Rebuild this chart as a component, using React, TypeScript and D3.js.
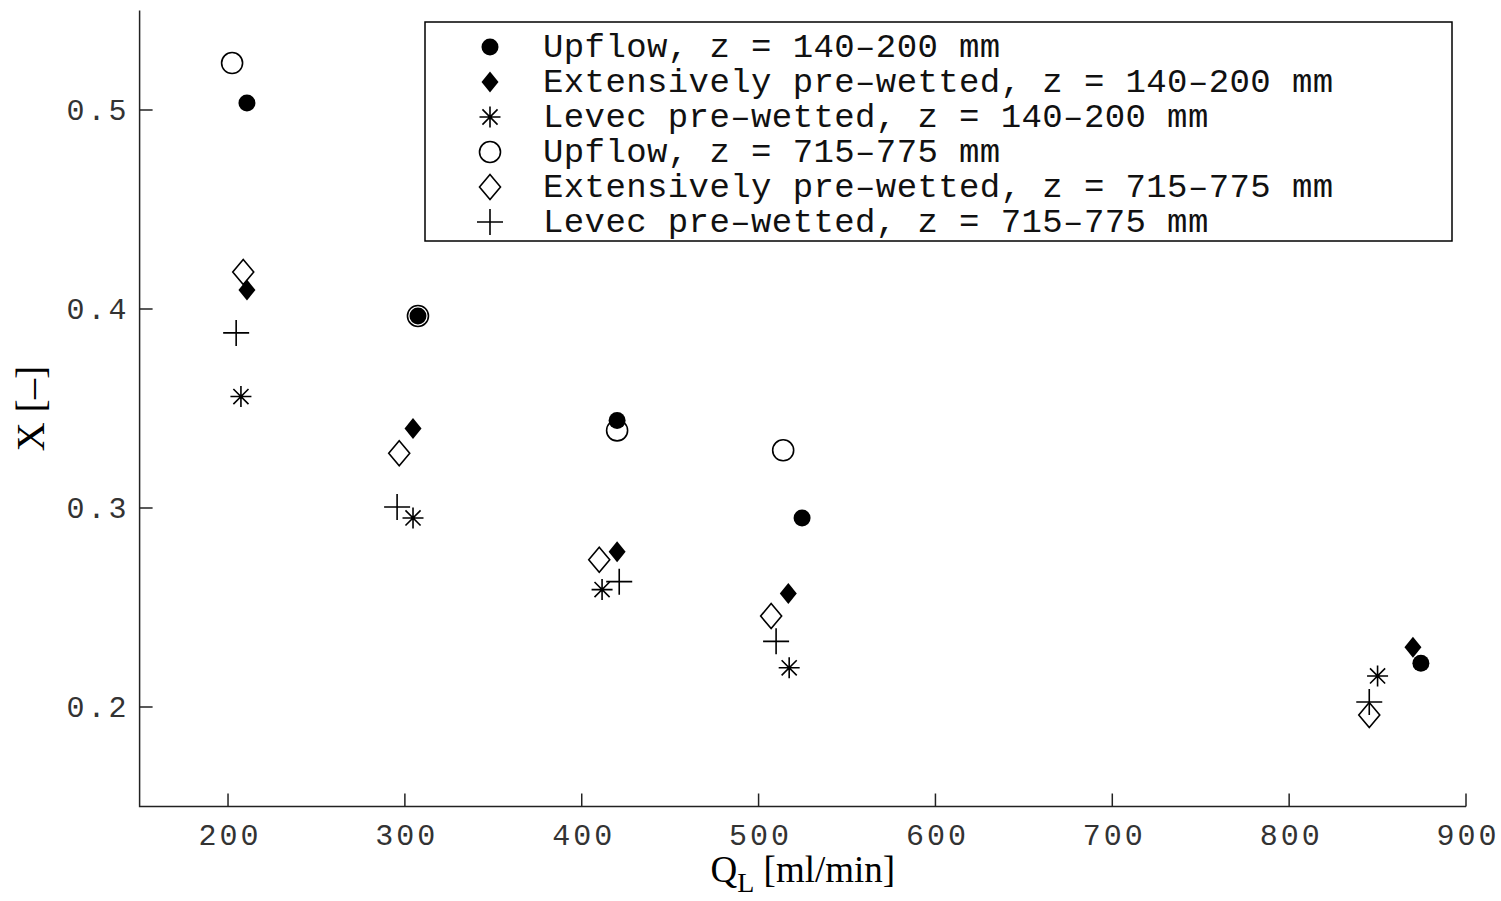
import React from 'react';
import * as d3 from 'd3';

const xTicks = [200, 300, 400, 500, 600, 700, 800, 900];
const yTicks = [0.2, 0.3, 0.4, 0.5];

const upflowLowX = [210.7, 307.4, 420, 524.6, 874.5];
const upflowLowY = [0.5035, 0.3965, 0.344, 0.295, 0.222];
const extLowX = [210.7, 304.6, 420, 516.8, 870];
const extLowY = [0.4095, 0.34, 0.278, 0.257, 0.23];
const levecLowX = [207.3, 304.6, 411.5, 517.3, 850];
const levecLowY = [0.356, 0.295, 0.259, 0.2197, 0.2156];
const upflowHighX = [202.3, 307.4, 420, 513.9];
const upflowHighY = [0.5236, 0.3965, 0.339, 0.329];
const extHighX = [208.6, 296.8, 409.9, 507.1, 845.3];
const extHighY = [0.4186, 0.3275, 0.274, 0.2457, 0.196];
const levecHighX = [204.6, 295.6, 421.2, 509.9, 845.3];
const levecHighY = [0.388, 0.3005, 0.263, 0.233, 0.2025];

const seriesNames = [
  'Upflow, z = 140\u2013200 mm',
  'Extensively pre\u2013wetted, z = 140\u2013200 mm',
  'Levec pre\u2013wetted, z = 140\u2013200 mm',
  'Upflow, z = 715\u2013775 mm',
  'Extensively pre\u2013wetted, z = 715\u2013775 mm',
  'Levec pre\u2013wetted, z = 715\u2013775 mm',
];

type Kind = 'dot' | 'fdiamond' | 'star' | 'circle' | 'odiamond' | 'plus';
const series: { kind: Kind; xs: number[]; ys: number[] }[] = [
  { kind: 'dot', xs: upflowLowX, ys: upflowLowY },
  { kind: 'fdiamond', xs: extLowX, ys: extLowY },
  { kind: 'star', xs: levecLowX, ys: levecLowY },
  { kind: 'circle', xs: upflowHighX, ys: upflowHighY },
  { kind: 'odiamond', xs: extHighX, ys: extHighY },
  { kind: 'plus', xs: levecHighX, ys: levecHighY },
];

const W = 1501;
const H = 901;
const left = 139.6, right = 1466, top = 10.5, bottom = 806.5;
const mono = '"Liberation Mono", "Courier New", monospace';
const serif = '"Liberation Serif", "Times New Roman", serif';

const Marker = ({ kind, x, y }: { kind: Kind; x: number; y: number }) => {
  const s = { stroke: '#000', strokeWidth: 1.6 };
  switch (kind) {
    case 'dot':
      return <circle cx={x} cy={y} r={8.5} fill="#000" />;
    case 'circle':
      return <circle cx={x} cy={y} r={10.5} fill="none" {...s} />;
    case 'fdiamond':
      return <path d={`M${x},${y - 10.5}L${x + 8.5},${y}L${x},${y + 10.5}L${x - 8.5},${y}Z`} fill="#000" />;
    case 'odiamond':
      return <path d={`M${x},${y - 12.5}L${x + 10.5},${y}L${x},${y + 12.5}L${x - 10.5},${y}Z`} fill="none" {...s} />;
    case 'plus':
      return <path d={`M${x - 13},${y}H${x + 13}M${x},${y - 13}V${y + 13}`} fill="none" {...s} />;
    case 'star': {
      const r = 10.5, d = r * 0.72;
      return (
        <path
          d={`M${x - r},${y}H${x + r}M${x},${y - r}V${y + r}M${x - d},${y - d}L${x + d},${y + d}M${x - d},${y + d}L${x + d},${y - d}`}
          fill="none"
          {...s}
        />
      );
    }
  }
  return null;
};

export default function App() {
  const x = d3.scaleLinear().domain([150, 900]).range([left, right]);
  const y = d3.scaleLinear().domain([0.15, 0.55]).range([bottom, top]);
  const tick = 13;

  return (
    <svg width={W} height={H} style={{ position: 'absolute', left: 0, top: 0, background: '#fff' }}>
      <rect width={W} height={H} fill="#fff" />
      {/* axes */}
      <path d={`M${left},${top}V${bottom}H${right}`} fill="none" stroke="#222" strokeWidth={1.5} />
      {xTicks.map((t) => (
        <g key={t}>
          <line x1={x(t)} x2={x(t)} y1={bottom} y2={bottom - tick} stroke="#222" strokeWidth={1.5} />
          <text
            x={x(t) + 2}
            y={bottom + 38}
            textAnchor="middle"
            fontFamily={mono}
            fontSize={30}
            letterSpacing={3}
            fill="#333"
          >
            {t}
          </text>
        </g>
      ))}
      {yTicks.map((t) => (
        <g key={t}>
          <line x1={left} x2={left + tick} y1={y(t)} y2={y(t)} stroke="#222" strokeWidth={1.5} />
          <text
            x={left - 10}
            y={y(t) + 10}
            textAnchor="end"
            fontFamily={mono}
            fontSize={30}
            letterSpacing={3}
            fill="#333"
          >
            {d3.format('.1f')(t)}
          </text>
        </g>
      ))}
      {/* axis titles */}
      <text x={(left + right) / 2} y={882} textAnchor="middle" fontFamily={serif} fontSize={37} fill="#000">
        Q<tspan fontSize={28} dy={10}>L</tspan>
        <tspan dy={-10}> [ml/min]</tspan>
      </text>
      <text
        transform={`translate(44,${(top + bottom) / 2}) rotate(-90)`}
        textAnchor="middle"
        fontFamily={serif}
        fontSize={40}
        fill="#000"
      >
        X [–]
      </text>
      {/* points */}
      {series.map((s, i) => (
        <g key={i}>
          {s.xs.map((v, j) => (
            <Marker key={j} kind={s.kind} x={x(v)} y={y(s.ys[j])} />
          ))}
        </g>
      ))}
      {/* legend */}
      <rect x={425} y={22} width={1027} height={219} fill="#fff" stroke="#000" strokeWidth={1.5} />
      {series.map((s, i) => (
        <g key={i}>
          <Marker kind={s.kind} x={490} y={47 + i * 35} />
          <text
            x={543}
            y={47 + i * 35 + 10}
            fontFamily={mono}
            fontSize={34}
            letterSpacing={0.4}
            fill="#111"
          >
            {seriesNames[i]}
          </text>
        </g>
      ))}
    </svg>
  );
}
